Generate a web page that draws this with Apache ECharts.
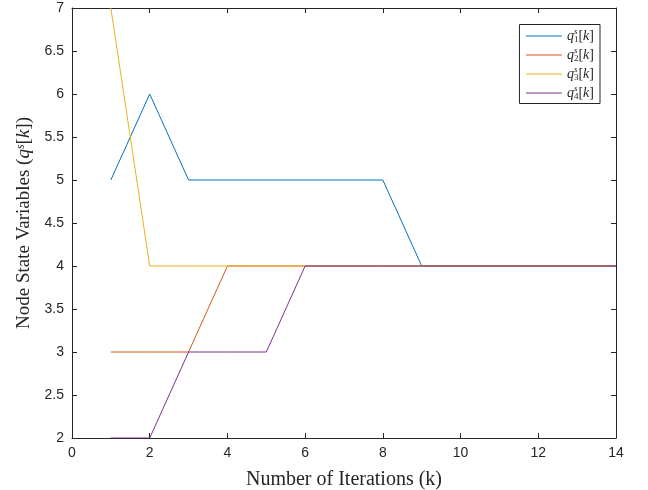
<!DOCTYPE html>
<html><head><meta charset="utf-8">
<script src="https://cdn.jsdelivr.net/npm/echarts@6/dist/echarts.min.js"></script>
<style>html,body{margin:0;padding:0;background:#fff}#c{width:648px;height:490px}</style>
</head><body><div id="c"></div>
<script>
const iterations = [1,2,3,4,5,6,7,8,9,10,11,12,13,14];
const q1 = [5,6,5,5,5,5,5,5,4,4,4,4,4,4];
const q2 = [3,3,3,4,4,4,4,4,4,4,4,4,4,4];
const q3 = [7,4,4,4,4,4,4,4,4,4,4,4,4,4];
const q4 = [2,2,3,3,3,4,4,4,4,4,4,4,4,4];
const seriesNames = ['1','2','3','4'];
const seriesData = [q1,q2,q3,q4];
const colors = ['#0072BD','#D95319','#EDB120','#7E2F8E'];
const xTicks = {min:0,max:14,interval:2};
const yTicks = {min:2,max:7,interval:0.5};

const serif = 'Liberation Serif';
const axisColor = '#262626';
const chart = echarts.init(document.getElementById('c'));
const axCommon = {
  axisLine:{show:true,onZero:false,lineStyle:{color:axisColor,width:1}},
  axisTick:{show:true,inside:true,length:5,lineStyle:{color:axisColor}},
  splitLine:{show:false}
};
chart.setOption({
  animation:false,
  color:colors,
  grid:{left:72,right:32,top:8,bottom:52,outerBoundsMode:'none',containLabel:false},
  legend:{
    orient:'vertical', right:48, top:24.5,
    backgroundColor:'#fff', borderColor:'#262626', borderWidth:1,
    padding:[3,6,2,6], itemGap:2, itemWidth:36, itemHeight:14,
    itemStyle:{opacity:0},
    lineStyle:{width:1},
    formatter: n => '{q|q}{sup|s}{sub|' + n + '}{b|[}{k|k}{b|]}',
    textStyle:{
      fontFamily:serif, fontSize:13, color:'#262626', lineHeight:17,
      rich:{
        q:{fontFamily:serif,fontStyle:'italic',fontSize:14,color:'#262626'},
        sup:{fontFamily:serif,fontStyle:'italic',fontSize:9,width:0,verticalAlign:'top',color:'#262626'},
        sub:{fontFamily:serif,fontSize:9,verticalAlign:'bottom',color:'#262626'},
        b:{fontFamily:serif,fontSize:14,color:'#262626'},
        k:{fontFamily:serif,fontStyle:'italic',fontSize:14,color:'#262626'}
      }
    },
    data: seriesNames
  },
  xAxis:[
    Object.assign({type:'value',position:'bottom',min:xTicks.min,max:xTicks.max,interval:xTicks.interval,
      name:'Number of Iterations (k)',nameLocation:'middle',nameGap:32,
      nameTextStyle:{fontFamily:serif,fontSize:20,color:'#262626'},
      axisLabel:{fontFamily:'Liberation Sans',fontSize:14,color:'#262626',margin:8}},axCommon),
    Object.assign({type:'value',position:'top',min:xTicks.min,max:xTicks.max,interval:xTicks.interval,
      axisLabel:{show:false}},axCommon)
  ],
  yAxis:[
    Object.assign({type:'value',position:'left',min:yTicks.min,max:yTicks.max,interval:yTicks.interval,
      name:'{a|Node State Variables (}{q|q}{sup|s}{a|[}{q|k}{a|])}',nameLocation:'middle',nameGap:34,
      nameTextStyle:{fontFamily:serif,fontSize:19,color:'#262626',
        rich:{a:{fontFamily:serif,fontSize:19,color:'#262626'},
              q:{fontFamily:serif,fontStyle:'italic',fontSize:19,color:'#262626'},
              sup:{fontFamily:serif,fontStyle:'italic',fontSize:12,verticalAlign:'top',color:'#262626'}}},
      axisLabel:{fontFamily:'Liberation Sans',fontSize:14,color:'#262626',margin:8}},axCommon),
    Object.assign({type:'value',position:'right',min:yTicks.min,max:yTicks.max,interval:yTicks.interval,
      axisLabel:{show:false}},axCommon)
  ],
  series: seriesNames.map((n,i)=>({
    name:n, type:'line', symbol:'none', xAxisIndex:0, yAxisIndex:0,
    lineStyle:{width:1,color:colors[i]}, z:2+i,
    data: iterations.map((x,j)=>[x,seriesData[i][j]])
  }))
});
</script></body></html>
